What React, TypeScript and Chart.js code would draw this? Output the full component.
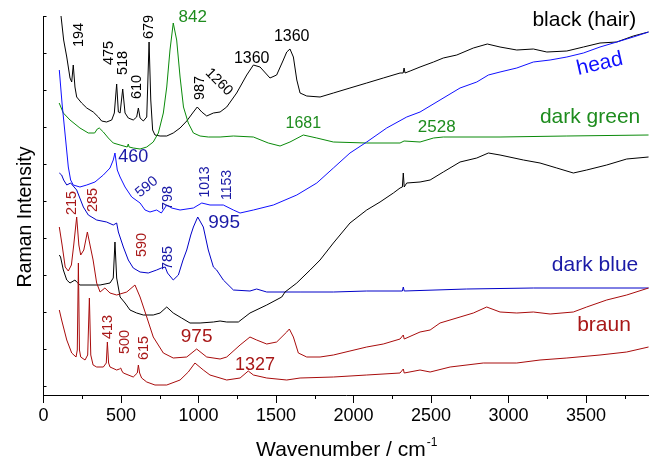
import { useEffect, useRef } from 'react';
import { Chart, registerables } from 'chart.js';

Chart.register(...registerables);

// ---------- data (x: wavenumber / cm-1, y: Raman intensity, arbitrary units) ----------
const hairX = [105, 113, 130, 150, 171, 182, 192, 203, 214, 246, 279, 321, 354, 375, 407, 440, 457, 472, 483, 494, 511, 526, 547, 579, 601, 612, 623, 644, 666, 681, 692, 704, 719, 752, 795, 837, 881, 924, 967, 992, 1021, 1053, 1096, 1139, 1182, 1246, 1311, 1354, 1397, 1461, 1504, 1547, 1569, 1590, 1612, 1634, 1655, 1698, 1784, 1870, 1977, 2085, 2192, 2300, 2320, 2326, 2332, 2365, 2429, 2516, 2579, 2666, 2773, 2863, 2945, 3053, 3160, 3247, 3376, 3483, 3590, 3698, 3805, 3903];
const hairY = [400, 379, 355, 338, 317, 313, 330, 308, 298, 292, 287, 283, 278, 274, 273, 275, 282, 311, 283, 282, 306, 282, 277, 275, 278, 287, 277, 274, 278, 353, 295, 265, 260, 259, 259, 262, 267, 274, 283, 288, 283, 279, 282, 283, 288, 302, 320, 330, 328, 317, 320, 335, 343, 346, 338, 315, 302, 299, 298, 302, 307, 312, 317, 322, 322, 327, 322, 324, 328, 333, 337, 340, 347, 351, 348, 345, 346, 343, 344, 348, 352, 353, 359, 363];

const greenX = [101, 128, 171, 235, 289, 330, 347, 360, 386, 418, 450, 494, 540, 547, 552, 579, 623, 666, 708, 741, 773, 795, 816, 837, 859, 881, 903, 934, 967, 1010, 1063, 1139, 1225, 1354, 1450, 1526, 1590, 1676, 1763, 1870, 2085, 2300, 2326, 2429, 2516, 2579, 2945, 3376, 3903];
const greenY = [292, 282, 275, 267, 262, 262, 266, 267, 263, 257, 252, 250, 248, 251, 248, 247, 246, 248, 253, 262, 282, 308, 345, 372, 355, 318, 288, 272, 262, 259, 258, 258, 259, 258, 252, 249, 253, 260, 257, 253, 252, 252, 254, 253, 257, 258, 258, 259, 260];

const headX = [102, 120, 143, 160, 175, 192, 235, 279, 332, 386, 429, 450, 461, 476, 494, 526, 569, 623, 655, 687, 730, 760, 795, 827, 881, 967, 1021, 1074, 1139, 1160, 1225, 1268, 1354, 1483, 1634, 1763, 1870, 1977, 2085, 2214, 2343, 2429, 2558, 2687, 2795, 2870, 2945, 3053, 3160, 3268, 3376, 3483, 3590, 3698, 3805, 3903];
const headY = [325, 291, 255, 228, 215, 210, 208, 210, 213, 220, 227, 235, 242, 225, 218, 208, 198, 192, 185, 183, 185, 182, 190, 187, 185, 187, 192, 190, 190, 190, 185, 182, 185, 190, 200, 212, 227, 242, 253, 267, 278, 283, 295, 307, 313, 320, 323, 327, 333, 335, 338, 342, 348, 353, 358, 363];

const darkBlueX = [102, 117, 130, 150, 175, 214, 257, 289, 343, 407, 450, 472, 483, 515, 547, 579, 623, 676, 730, 760, 785, 800, 837, 870, 900, 924, 950, 967, 995, 1031, 1063, 1096, 1117, 1160, 1225, 1332, 1375, 1440, 1655, 1870, 2085, 2315, 2321, 2327, 2730, 3160, 3903];
const darkBlueY = [222, 220, 215, 210, 212, 205, 188, 180, 175, 173, 170, 172, 163, 148, 135, 127, 123, 122, 125, 127, 128, 122, 115, 120, 135, 145, 160, 168, 178, 168, 145, 128, 125, 115, 105, 104, 106, 103, 103, 103, 104, 104, 108, 104, 106, 107, 107];

const blackX = [102, 110, 128, 150, 171, 203, 214, 235, 300, 365, 429, 450, 461, 472, 494, 526, 558, 601, 644, 708, 752, 795, 837, 891, 945, 1010, 1096, 1139, 1182, 1257, 1332, 1440, 1537, 1558, 1634, 1720, 1784, 1870, 1977, 2085, 2171, 2257, 2300, 2315, 2321, 2327, 2343, 2429, 2494, 2579, 2687, 2795, 2870, 2945, 3096, 3203, 3311, 3418, 3504, 3633, 3762, 3903];
const blackY = [140, 138, 125, 115, 112, 115, 113, 110, 110, 110, 112, 117, 153, 117, 98, 92, 85, 82, 80, 80, 82, 88, 82, 77, 72, 72, 73, 74, 73, 73, 82, 90, 98, 103, 112, 125, 135, 152, 172, 185, 193, 202, 207, 208, 222, 208, 212, 213, 215, 223, 233, 237, 242, 240, 235, 232, 227, 222, 225, 230, 236, 238];

const braun1X = [102, 120, 140, 160, 180, 195, 214, 228, 240, 260, 283, 300, 320, 343, 365, 396, 429, 472, 537, 590, 623, 666, 708, 773, 837, 924, 988, 1053, 1139, 1182, 1268, 1332, 1375, 1440, 1504, 1569, 1586, 1612, 1644, 1698, 1784, 1870, 1977, 2085, 2192, 2300, 2321, 2327, 2429, 2494, 2558, 2687, 2773, 2859, 2945, 3053, 3160, 3268, 3418, 3504, 3633, 3762, 3903];
const braun1Y = [168, 150, 128, 124, 130, 150, 178, 150, 140, 145, 163, 150, 135, 112, 103, 107, 102, 100, 103, 110, 98, 78, 58, 42, 37, 38, 46, 38, 36, 38, 50, 58, 55, 51, 53, 63, 66, 58, 42, 38, 38, 40, 44, 48, 51, 56, 60, 56, 63, 65, 72, 78, 82, 88, 83, 82, 83, 81, 83, 88, 95, 100, 107];

const braun2X = [102, 117, 150, 182, 210, 218, 225, 232, 240, 268, 285, 296, 305, 320, 343, 386, 405, 412, 420, 429, 472, 490, 498, 506, 515, 579, 605, 612, 620, 633, 666, 719, 795, 881, 934, 977, 1031, 1074, 1182, 1268, 1321, 1354, 1440, 1569, 1655, 1870, 2085, 2300, 2321, 2327, 2429, 2494, 2623, 2837, 3053, 3203, 3376, 3590, 3762, 3903];
const braun2Y = [85, 75, 55, 42, 38, 45, 132, 45, 38, 35, 40, 97, 40, 30, 28, 28, 32, 53, 32, 28, 25, 26, 27, 24, 22, 18, 22, 30, 22, 17, 13, 10, 10, 15, 23, 32, 25, 20, 15, 17, 24, 20, 17, 15, 17, 18, 20, 22, 26, 22, 25, 23, 28, 32, 32, 35, 37, 40, 43, 48];

const X_TICKS = [0, 500, 1000, 1500, 2000, 2500, 3000, 3500];
const X_MINOR = [250, 750, 1250, 1750, 2250, 2750, 3250, 3750];
const Y_TICKS = [9, 46, 83, 120, 157, 194, 231, 268, 305, 342, 379];

// annotation texts anchored at (wavenumber, intensity)
const labelText = ['194', '475', '518', '610', '679', '842', '987', '1260', '1360', '1360', 'black (hair)', 'head', 'dark green', '1681', '2528', '460', '590', '798', '1013', '1153', '995', '215', '285', '590', '785', 'dark blue', 'braun', '413', '500', '615', '975', '1327'];
const labelX = [230, 425, 515, 605, 681, 963, 1010, 1132, 1343, 1601, 3489, 3588, 3526, 1676, 2537, 579, 666, 805, 1042, 1182, 1165, 182, 321, 634, 805, 3558, 3616, 418, 526, 648, 988, 1365];
const labelY = [360, 342, 332, 308, 368, 378, 307, 313, 336, 358, 375, 331, 278, 271, 268, 238, 208, 197, 213, 210, 172, 192, 195, 150, 137, 130, 70, 68, 53, 47, 58, 30];

// ---------- styles ----------
const COL = {
  black: '#000000',
  green: '#0a8a0a',
  greenText: '#1e8c1e',
  head: '#1010ff',
  dark: '#0000c8',
  darkText: '#1a1aa6',
  red: '#a80c0c',
  redText: '#a81818',
};
const FONT = '"Liberation Sans", Arial, Helvetica, sans-serif';
// per-label style: [color, size, rotation(deg)]
const labelStyle: [string, number, number][] = [
  [COL.black, 14.5, -90], [COL.black, 14.5, -90], [COL.black, 14.5, -90], [COL.black, 14.5, -90], [COL.black, 14.5, -90],
  [COL.greenText, 17, 0], [COL.black, 14.5, -90], [COL.black, 14.5, 45], [COL.black, 16, 0], [COL.black, 16, 0],
  [COL.black, 21, 0], [COL.head, 21, -13], [COL.greenText, 21, 0], [COL.greenText, 16, 0], [COL.greenText, 17, 0],
  [COL.darkText, 18, 0], [COL.darkText, 14.5, -40], [COL.darkText, 14.5, -90], [COL.darkText, 14, -90], [COL.darkText, 14, -90],
  [COL.darkText, 19, 0], [COL.redText, 14.5, -90], [COL.redText, 14.5, -90], [COL.redText, 14.5, -90], [COL.darkText, 14.5, -90],
  [COL.darkText, 21, 0], [COL.redText, 21, 0], [COL.redText, 14.5, -90], [COL.redText, 14.5, -90], [COL.redText, 14.5, -90],
  [COL.redText, 19, 0], [COL.redText, 18, 0],
];

const pts = (xs: number[], ys: number[]) => xs.map((x, i) => ({ x, y: ys[i] }));

const overlay = {
  id: 'overlay',
  afterDraw(chart: any) {
    const { ctx, chartArea: ca, scales } = chart;
    const x = scales.x, y = scales.y;
    ctx.save();
    ctx.strokeStyle = '#000';
    ctx.lineWidth = 1;
    X_MINOR.forEach((v) => {
      const px = Math.round(x.getPixelForValue(v)) + 0.5;
      ctx.beginPath();
      ctx.moveTo(px, ca.bottom);
      ctx.lineTo(px, ca.bottom + 4);
      ctx.stroke();
    });
    Y_TICKS.forEach((v) => {
      const py = Math.round(y.getPixelForValue(v)) + 0.5;
      ctx.beginPath();
      ctx.moveTo(ca.left, py);
      ctx.lineTo(ca.left + 3, py);
      ctx.stroke();
    });

    // x title with superscript
    ctx.fillStyle = '#000';
    ctx.textBaseline = 'alphabetic';
    ctx.textAlign = 'left';
    ctx.font = `21px ${FONT}`;
    const main = 'Wavenumber / cm';
    const wMain = ctx.measureText(main).width;
    ctx.font = `12px ${FONT}`;
    const sup = '-1';
    const wSup = ctx.measureText(sup).width;
    const cx = (ca.left + ca.right) / 2;
    const start = cx - (wMain + wSup) / 2;
    ctx.font = `21px ${FONT}`;
    ctx.fillText(main, start, 456);
    ctx.font = `12px ${FONT}`;
    ctx.fillText(sup, start + wMain + 1, 446);

    // y title
    ctx.save();
    ctx.translate(26, 217);
    ctx.rotate(-Math.PI / 2);
    ctx.font = `19.5px ${FONT}`;
    ctx.textAlign = 'center';
    ctx.textBaseline = 'middle';
    ctx.fillText('Raman Intensity', 0, 0);
    ctx.restore();

    // annotations
    labelText.forEach((t, i) => {
      const [color, size, rot] = labelStyle[i];
      ctx.save();
      ctx.translate(x.getPixelForValue(labelX[i]), y.getPixelForValue(labelY[i]));
      ctx.rotate((rot * Math.PI) / 180);
      ctx.font = `${size}px ${FONT}`;
      ctx.fillStyle = color;
      ctx.textAlign = 'center';
      ctx.textBaseline = 'middle';
      ctx.fillText(t, 0, 0);
      ctx.restore();
    });
    ctx.restore();
  },
};

export default function App() {
  const ref = useRef<HTMLCanvasElement>(null);
  useEffect(() => {
    const canvas = ref.current!;
    const ds = (data: any[], color: string, w = 1) => ({
      data,
      borderColor: color,
      borderWidth: w,
      pointRadius: 0,
      fill: false,
      tension: 0,
    });
    const chart = new Chart(canvas, {
      type: 'line',
      data: {
        datasets: [
          ds(pts(braun2X, braun2Y), COL.red),
          ds(pts(braun1X, braun1Y), COL.red),
          ds(pts(blackX, blackY), COL.black),
          ds(pts(darkBlueX, darkBlueY), COL.dark),
          ds(pts(headX, headY), COL.head),
          ds(pts(greenX, greenY), COL.green),
          ds(pts(hairX, hairY), COL.black),
        ],
      },
      options: {
        animation: false,
        responsive: false,
        devicePixelRatio: 1,
        layout: { padding: { top: 16, right: 0, left: 0, bottom: 0 } },
        plugins: { legend: { display: false }, tooltip: { enabled: false } },
        scales: {
          x: {
            type: 'linear',
            min: 0,
            max: 3906,
            afterBuildTicks: (s: any) => {
              s.ticks = X_TICKS.map((v) => ({ value: v }));
            },
            afterFit: (s: any) => {
              s.height = 66;
            },
            ticks: {
              font: { family: FONT, size: 18 },
              color: '#000',
              padding: 2,
              maxRotation: 0,
              autoSkip: false,
              callback: (v: any) => String(v),
            },
            grid: { display: true, drawOnChartArea: false, drawTicks: true, tickLength: 8, color: '#000', lineWidth: 1 },
            border: { display: true, color: '#000', width: 1 },
          },
          y: {
            type: 'linear',
            min: 0,
            max: 379,
            afterFit: (s: any) => {
              s.width = 43.5;
            },
            ticks: { display: false },
            grid: { display: false },
            border: { display: true, color: '#000', width: 1 },
          },
        },
      },
      plugins: [overlay],
    } as any);
    return () => chart.destroy();
  }, []);
  return (
    <canvas
      ref={ref}
      width={649}
      height={461}
      style={{ position: 'fixed', left: 0, top: 0, width: 649, height: 461, background: '#fff' }}
    />
  );
}
